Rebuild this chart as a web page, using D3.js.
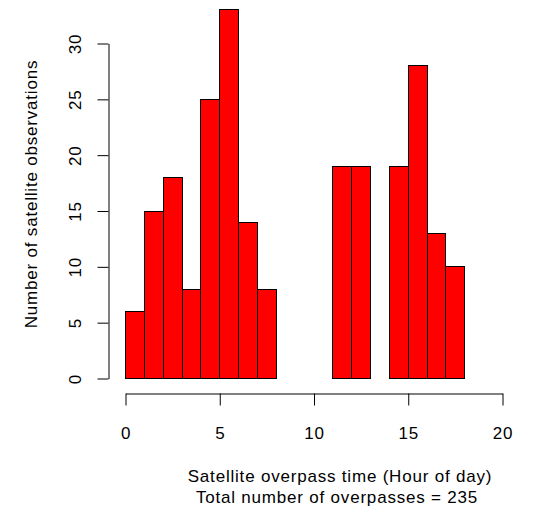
<!DOCTYPE html>
<html>
<head>
<meta charset="utf-8">
<script src="https://cdn.jsdelivr.net/npm/d3@7"></script>
<style>
  body { margin: 0; background: #fff; }
  svg text { font-family: "Liberation Sans", Arial, sans-serif; font-size: 17px; letter-spacing: 0.8px; fill: #000; }
</style>
</head>
<body>
<div id="chart"></div>
<script>
// hourly bins 0-1, 1-2, ... 23-24
const hourBreaks = d3.range(0, 25);
const counts = [6, 15, 18, 8, 25, 33, 14, 8, 0, 0, 0, 19, 19, 0, 19, 28, 13, 10, 0, 0, 0, 0, 0, 0];
const xTicks = [0, 5, 10, 15, 20];
const yTicks = [0, 5, 10, 15, 20, 25, 30];
const xLabel = 'Satellite overpass time (Hour of day)';
const subLabel = 'Total number of overpasses = ' + d3.sum(counts);
const yLabel = 'Number of satellite observations';

const width = 542, height = 512;

const svg = d3.select('#chart')
  .append('svg')
  .attr('width', width)
  .attr('height', height);

const x = d3.scaleLinear().domain([0, 20]).range([125, 502]);
const y = d3.scaleLinear().domain([0, 30]).range([378, 43]);

const bins = counts.map((c, i) => ({ x0: hourBreaks[i], x1: hourBreaks[i + 1], count: c }));

// Bars (zero-count bins collapse to a line on the baseline, like R's hist)
svg.append('g')
  .selectAll('rect')
  .data(bins)
  .enter()
  .append('rect')
  .attr('x', d => Math.round(x(d.x0)) + 0.5)
  .attr('y', d => Math.round(y(d.count)) + 0.5)
  .attr('width', d => Math.round(x(d.x1)) - Math.round(x(d.x0)))
  .attr('height', d => Math.round(y(0)) - Math.round(y(d.count)))
  .attr('fill', '#ff0000')
  .attr('stroke', '#000')
  .attr('stroke-width', 1);

// X axis
const xAxis = svg.append('g')
  .attr('transform', 'translate(0.5,393.5)')
  .call(d3.axisBottom(x).tickValues(xTicks).tickSize(12).tickSizeOuter(0).tickPadding(21));
xAxis.selectAll('text').style('font-size', '17px').style('font-family', '"Liberation Sans", Arial, sans-serif');

// Y axis
const yAxis = svg.append('g')
  .attr('transform', 'translate(108.5,0.5)')
  .call(d3.axisLeft(y).tickValues(yTicks).tickSize(11).tickSizeOuter(0));
yAxis.selectAll('text')
  .attr('transform', 'rotate(-90)')
  .attr('x', 0)
  .attr('y', -28)
  .attr('dy', null)
  .attr('text-anchor', 'middle')
  .style('font-size', '17px')
  .style('font-family', '"Liberation Sans", Arial, sans-serif');

svg.selectAll('.domain, .tick line').attr('stroke', '#000');

// Axis titles
svg.append('text')
  .attr('x', 340)
  .attr('y', 482)
  .attr('text-anchor', 'middle')
  .text(xLabel);

svg.append('text')
  .attr('x', 337)
  .attr('y', 503)
  .attr('text-anchor', 'middle')
  .text(subLabel);

svg.append('text')
  .attr('transform', 'translate(37,194) rotate(-90)')
  .attr('text-anchor', 'middle')
  .text(yLabel);
</script>
</body>
</html>
